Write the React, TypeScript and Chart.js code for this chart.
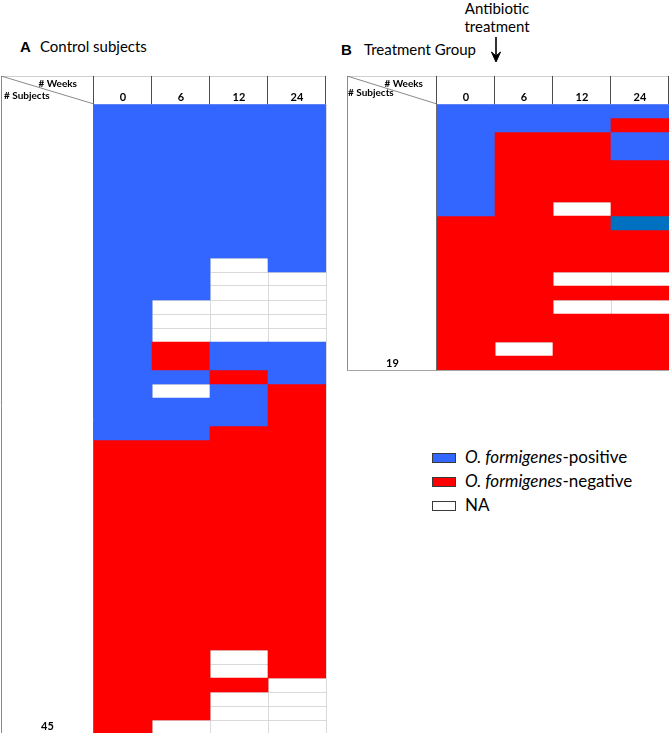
import React, { useEffect, useRef } from 'react';
import { Chart, registerables } from 'chart.js';

Chart.register(...registerables);

// ---- Data ----
const WEEKS = ['0', '6', '12', '24'];

// Status codes per subject (one char per week column):
// P = O. formigenes-positive, D = positive (darker shade), N = negative, A = NA
const CONTROL_SUBJECTS = [
  'PPPP', 'PPPP', 'PPPP', 'PPPP', 'PPPP', 'PPPP', 'PPPP', 'PPPP', 'PPPP', 'PPPP', 'PPPP',
  'PPAP', 'PPAA', 'PPAA', 'PAAA', 'PAAA', 'PAAA',
  'PNPP', 'PNPP', 'PPNP', 'PAPN', 'PPPN', 'PPPN', 'PPNN',
  'NNNN', 'NNNN', 'NNNN', 'NNNN', 'NNNN', 'NNNN', 'NNNN', 'NNNN',
  'NNNN', 'NNNN', 'NNNN', 'NNNN', 'NNNN', 'NNNN', 'NNNN',
  'NNAN', 'NNAN', 'NNNA', 'NNAA', 'NNAA', 'NAAA',
];

const TREATMENT_SUBJECTS = [
  'PPPP', 'PPPN', 'PNNP', 'PNNP', 'PNNN', 'PNNN', 'PNNN', 'PNAN', 'NNND',
  'NNNN', 'NNNN', 'NNNN', 'NNAA', 'NNNN', 'NNAA', 'NNNN', 'NNNN', 'NANN', 'NNNN',
];

const STATUS_COLORS: Record<string, string> = {
  P: '#3366FF',
  D: '#0070C0',
  N: '#FF0000',
  A: 'rgba(255,255,255,0)',
};

const LEGEND_CODES = ['P', 'N', 'A'];
const LEGEND_SPECIES = ['O. formigenes', 'O. formigenes', ''];
const LEGEND_SUFFIX = ['-positive', '-negative', 'NA'];

const PANEL_LETTERS = ['A', 'B'];
const PANEL_TITLES = ['Control subjects', 'Treatment Group'];
const ANNOTATION_LINES = ['Antibiotic', 'treatment'];
const HEADER_WEEKS = '# Weeks';
const HEADER_SUBJECTS = '# Subjects';

// ---- Layout ----
const HEADER_HEIGHT = 28;
const FONT = 'Lato, "Open Sans", sans-serif';

type GridProps = {
  rows: string[];
  left: number;
  top: number;
  width: number;
  height: number;
  labelWidth: number;
  rightPad: number;
};

function GridChart({ rows, left, top, width, height, labelWidth, rightPad }: GridProps) {
  const canvasRef = useRef<HTMLCanvasElement | null>(null);

  useEffect(() => {
    const canvas = canvasRef.current;
    if (!canvas) return;
    const n = rows.length;

    const framePlugin = {
      id: 'tableFrame',
      afterDraw(chart: any) {
        const { ctx, chartArea: a } = chart;
        const k = WEEKS.length;
        const colW = (a.right - a.left) / k;
        const seg = (x1: number, y1: number, x2: number, y2: number, color: string) => {
          ctx.beginPath();
          ctx.strokeStyle = color;
          ctx.moveTo(x1, y1);
          ctx.lineTo(x2, y2);
          ctx.stroke();
        };
        ctx.save();
        ctx.lineWidth = 1;
        seg(1, 0.5, a.right, 0.5, '#cfcfcf');
        seg(1.5, 0, 1.5, a.bottom + 1, '#8a8a8a');
        seg(1, a.bottom + 0.5, a.right, a.bottom + 0.5, '#a6a6a6');
        seg(a.left - 0.5, a.top, a.left - 0.5, a.bottom + 0.5, '#6b6b6b');
        for (let i = 0; i <= k; i++) {
          const x = Math.round(a.left + i * colW) - 0.5;
          seg(x, 0, x, a.top, '#4d4d4d');
        }
        ctx.lineWidth = 0.8;
        seg(1, 0, a.left, a.top, '#6b6b6b');
        ctx.restore();
      },
    };

    const chart = new Chart(canvas, {
      type: 'bar',
      data: {
        labels: WEEKS,
        datasets: rows.map((row, r) => ({
          label: `Subject ${r + 1}`,
          data: WEEKS.map(() => [r, r + 1]),
          backgroundColor: row.split('').map((c) => STATUS_COLORS[c]),
          borderWidth: 0,
          grouped: false,
          barPercentage: 1,
          categoryPercentage: 1,
        })),
      } as any,
      options: {
        responsive: false,
        animation: false,
        events: [],
        layout: { padding: { top: 0, left: 0, right: rightPad, bottom: 1 } },
        plugins: { legend: { display: false }, tooltip: { enabled: false } },
        scales: {
          x: {
            type: 'category',
            position: 'top',
            offset: true,
            grid: { color: '#d9d9d9', drawTicks: false, offset: true },
            border: { display: false },
            ticks: {
              color: '#000',
              font: { family: FONT, size: 11, weight: 'bold' },
              padding: 0,
              maxRotation: 0,
              autoSkip: false,
            },
            afterFit: (s: any) => {
              s.height = HEADER_HEIGHT;
            },
          },
          y: {
            type: 'linear',
            reverse: true,
            min: 0,
            max: n,
            afterBuildTicks: (s: any) => {
              s.ticks = Array.from({ length: n + 1 }, (_, i) => ({ value: i }));
            },
            ticks: { display: false },
            grid: { color: '#d9d9d9', drawTicks: false },
            border: { display: false },
            afterFit: (s: any) => {
              s.width = labelWidth;
            },
          },
        },
      } as any,
      plugins: [framePlugin],
    });
    return () => chart.destroy();
  }, [rows, labelWidth, rightPad]);

  return (
    <canvas
      ref={canvasRef}
      width={width}
      height={height}
      style={{ position: 'absolute', left, top, width, height, display: 'block' }}
    />
  );
}

function Txt(props: {
  left?: number;
  top: number;
  width?: number;
  size: number;
  bold?: boolean;
  align?: 'left' | 'center' | 'right';
  family?: string;
  children: React.ReactNode;
}) {
  const { left = 0, top, width, size, bold, align = 'left', family = FONT, children } = props;
  return (
    <div
      style={{
        position: 'absolute',
        left,
        top,
        width,
        fontSize: size,
        lineHeight: `${size}px`,
        fontWeight: bold ? 700 : 400,
        textAlign: align,
        fontFamily: family,
        color: '#000',
        whiteSpace: 'nowrap',
      }}
    >
      {children}
    </div>
  );
}

export default function App() {
  return (
    <div
      style={{
        position: 'absolute',
        left: 0,
        top: 0,
        width: 669,
        height: 733,
        overflow: 'hidden',
        background: '#fff',
      }}
    >
      {/* Panel titles */}
      <Txt left={20} top={39} size={15} bold family='"Liberation Sans", Arial, sans-serif'>
        {PANEL_LETTERS[0]}
      </Txt>
      <Txt left={40} top={39} size={15}>
        {PANEL_TITLES[0]}
      </Txt>
      <Txt left={341} top={42} size={15} bold family='"Liberation Sans", Arial, sans-serif'>
        {PANEL_LETTERS[1]}
      </Txt>
      <Txt left={364} top={42} size={15}>
        {PANEL_TITLES[1]}
      </Txt>

      {/* Annotation */}
      <Txt left={447} top={1} width={100} size={15} align="center">
        {ANNOTATION_LINES[0]}
      </Txt>
      <Txt left={447} top={19} width={100} size={15} align="center">
        {ANNOTATION_LINES[1]}
      </Txt>
      <svg
        style={{ position: 'absolute', left: 488, top: 37, width: 16, height: 27 }}
        width={16}
        height={27}
      >
        <line x1={8} y1={0} x2={8} y2={21} stroke="#000" strokeWidth={1.6} />
        <path d="M3.5 15 L8 25 L12.5 15 L8 19 Z" fill="#000" stroke="#000" strokeWidth={1} />
      </svg>

      {/* Panel A */}
      <GridChart
        rows={CONTROL_SUBJECTS}
        left={0}
        top={76}
        width={327}
        height={659}
        labelWidth={94}
        rightPad={1}
      />
      <Txt left={0} top={78} width={77} size={10} bold align="right">
        {HEADER_WEEKS}
      </Txt>
      <Txt left={4} top={90} size={10} bold>
        {HEADER_SUBJECTS}
      </Txt>
      <Txt left={1} top={720} width={93} size={11} bold align="center">
        {String(CONTROL_SUBJECTS.length)}
      </Txt>

      {/* Panel B */}
      <GridChart
        rows={TREATMENT_SUBJECTS}
        left={346}
        top={76}
        width={323}
        height={295}
        labelWidth={91}
        rightPad={0}
      />
      <Txt left={346} top={78} width={77} size={10} bold align="right">
        {HEADER_WEEKS}
      </Txt>
      <Txt left={348} top={87} size={10} bold>
        {HEADER_SUBJECTS}
      </Txt>
      <Txt left={347} top={357} width={91} size={11} bold align="center">
        {String(TREATMENT_SUBJECTS.length)}
      </Txt>

      {/* Legend */}
      {LEGEND_CODES.map((code, i) => (
        <React.Fragment key={code}>
          <div
            style={{
              position: 'absolute',
              left: 432,
              top: 453 + i * 24,
              width: 22,
              height: 8,
              background: code === 'A' ? '#fff' : STATUS_COLORS[code],
              border: '1.5px solid #3a3a3a',
            }}
          />
          <Txt left={465} top={448 + i * 24} size={17}>
            {LEGEND_SPECIES[i] ? <i>{LEGEND_SPECIES[i]}</i> : null}
            {LEGEND_SUFFIX[i]}
          </Txt>
        </React.Fragment>
      ))}
    </div>
  );
}
